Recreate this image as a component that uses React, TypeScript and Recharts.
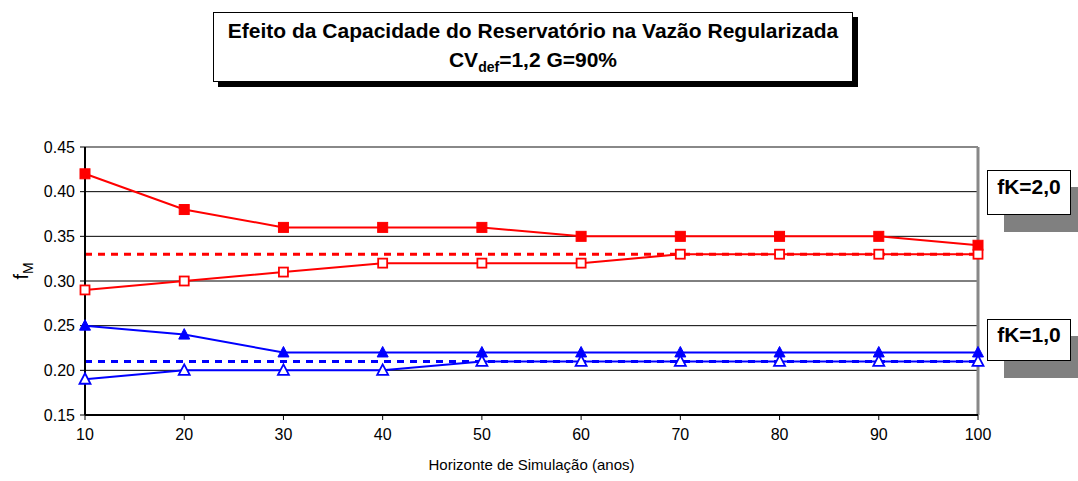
import React from 'react'
import { LineChart, Line, XAxis, YAxis, CartesianGrid, ReferenceLine } from 'recharts'

const horizons = [10, 20, 30, 40, 50, 60, 70, 80, 90, 100]
const fk2Upper = [0.42, 0.38, 0.36, 0.36, 0.36, 0.35, 0.35, 0.35, 0.35, 0.34]
const fk2Lower = [0.29, 0.3, 0.31, 0.32, 0.32, 0.32, 0.33, 0.33, 0.33, 0.33]
const fk1Upper = [0.25, 0.24, 0.22, 0.22, 0.22, 0.22, 0.22, 0.22, 0.22, 0.22]
const fk1Lower = [0.19, 0.2, 0.2, 0.2, 0.21, 0.21, 0.21, 0.21, 0.21, 0.21]
const fk2Level = 0.33
const fk1Level = 0.21
const yTicks = [0.15, 0.2, 0.25, 0.3, 0.35, 0.4, 0.45]

const RED = '#ff0000'
const BLUE = '#0000ff'

const data = horizons.map((h, i) => ({
  h,
  fk2Upper: fk2Upper[i],
  fk2Lower: fk2Lower[i],
  fk1Upper: fk1Upper[i],
  fk1Lower: fk1Lower[i],
}))

const SquareDot = (filled: boolean) => (props: any) => {
  const { cx, cy } = props
  if (cx == null || cy == null) return <g />
  const s = filled ? 10 : 9
  return (
    <rect
      x={cx - s / 2}
      y={cy - s / 2}
      width={s}
      height={s}
      fill={filled ? RED : '#fff'}
      stroke={RED}
      strokeWidth={filled ? 1 : 1.8}
    />
  )
}

const TriDot = (filled: boolean) => (props: any) => {
  const { cx, cy } = props
  if (cx == null || cy == null) return <g />
  return (
    <path
      d={`M${cx},${cy - 6} L${cx + 5.5},${cy + 4.5} L${cx - 5.5},${cy + 4.5} Z`}
      fill={filled ? BLUE : '#fff'}
      stroke={BLUE}
      strokeWidth={filled ? 1 : 1.8}
    />
  )
}

const font = '"Liberation Sans", Arial, sans-serif'

const labelBox: React.CSSProperties = {
  position: 'absolute', left: 987, width: 84, border: '1px solid #000', background: '#fff',
  boxShadow: '17px 17px 0 #808080', boxSizing: 'border-box', fontWeight: 700, fontSize: 21, textAlign: 'center',
}

export default function App() {
  return (
    <div style={{ position: 'absolute', left: 0, top: 0, width: 1078, height: 481, background: '#fff', fontFamily: font }}>
      {/* title box */}
      <div
        style={{
          position: 'absolute', left: 213, top: 12, width: 640, height: 70,
          border: '1px solid #000', background: '#fff', boxShadow: '5px 5px 0 #000',
          textAlign: 'center', fontWeight: 700, fontSize: 21, lineHeight: '29px', paddingTop: 3, boxSizing: 'border-box',
        }}
      >
        <div>Efeito da Capacidade do Reservatório na Vazão Regularizada</div>
        <div>
          CV<sub style={{ fontSize: 14, verticalAlign: 'sub', lineHeight: 0 }}>def</sub>=1,2 G=90%
        </div>
      </div>

      <LineChart width={1078} height={481} data={data} margin={{ top: 147, right: 100, bottom: 26, left: 25 }}>
        <CartesianGrid vertical={false} stroke="#000" strokeWidth={1} horizontalValues={yTicks} />
        <XAxis
          dataKey="h"
          type="number"
          domain={[10, 100]}
          ticks={horizons}
          height={40}
          tick={{ fontSize: 16, fill: '#000', fontFamily: font }}
          tickLine={{ stroke: '#000' }}
          tickSize={5}
          tickMargin={9}
          axisLine={{ stroke: '#000', strokeWidth: 2 }}
          label={{ value: 'Horizonte de Simulação (anos)', position: 'bottom', offset: 4, fontSize: 15, fill: '#000', fontFamily: font }}
        />
        <YAxis
          type="number"
          domain={[0.15, 0.45]}
          ticks={yTicks}
          width={60}
          tickFormatter={(v: number) => v.toFixed(2)}
          tick={{ fontSize: 16, fill: '#000', fontFamily: font }}
          tickLine={{ stroke: '#000' }}
          tickSize={5}
          tickMargin={5}
          axisLine={{ stroke: '#000', strokeWidth: 2 }}
          label={(props: any) => {
            const vb = props.viewBox
            const cy = vb.y + vb.height / 2 - 10
            return (
              <text transform={`translate(28, ${cy}) rotate(-90)`} textAnchor="middle" fontSize={20} fontFamily={font} fill="#000">
                f<tspan fontSize={14} dy={5}>M</tspan>
              </text>
            )
          }}
        />
        <ReferenceLine y={0.45} stroke="#888" strokeWidth={2} />
        <ReferenceLine x={100} stroke="#888" strokeWidth={3} />
        <ReferenceLine y={fk2Level} stroke={RED} strokeWidth={3} strokeDasharray="7 6" />
        <ReferenceLine y={fk1Level} stroke={BLUE} strokeWidth={3} strokeDasharray="7 6" />
        <Line dataKey="fk2Upper" stroke={RED} strokeWidth={2} dot={SquareDot(true)} isAnimationActive={false} />
        <Line dataKey="fk2Lower" stroke={RED} strokeWidth={2} dot={SquareDot(false)} isAnimationActive={false} />
        <Line dataKey="fk1Upper" stroke={BLUE} strokeWidth={2} dot={TriDot(true)} isAnimationActive={false} />
        <Line dataKey="fk1Lower" stroke={BLUE} strokeWidth={2} dot={TriDot(false)} isAnimationActive={false} />
      </LineChart>

      {/* series labels */}
      <div style={{ ...labelBox, top: 170, height: 45, paddingTop: 4 }}>fK=2,0</div>
      <div style={{ ...labelBox, top: 319, height: 42, paddingTop: 3 }}>fK=1,0</div>
    </div>
  )
}
